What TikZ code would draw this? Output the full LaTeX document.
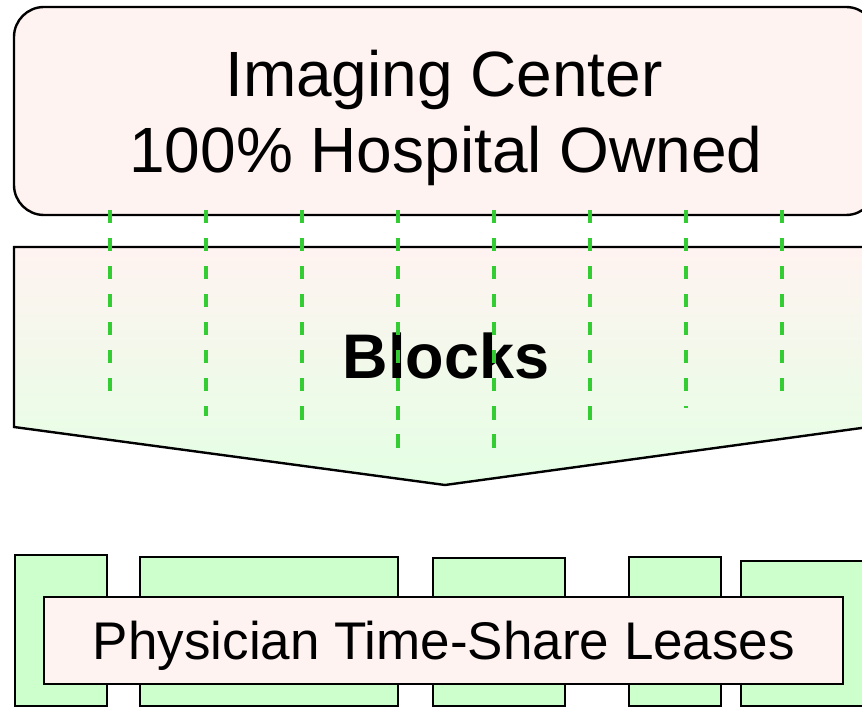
\documentclass[tikz,border=0pt]{standalone}
\usepackage{fontspec}
\setmainfont{Liberation Sans}
\definecolor{pinkfill}{HTML}{FFF3F1}
\definecolor{greenfill}{HTML}{CCFFCC}
\definecolor{lightgreen}{HTML}{E4FFE4}
\definecolor{dashgreen}{HTML}{33CC33}
\tikzset{
  border/.style={draw=black, line width=2.4pt},
  topbox/.style={border, fill=pinkfill, rounded corners=30pt},
  greenbox/.style={border, fill=greenfill},
  leasebox/.style={border, fill=pinkfill},
  divider/.style={draw=dashgreen, line width=3.5pt, dash pattern=on 13.5pt off 14.5pt},
  label/.style={inner sep=0pt, anchor=base},
}
\begin{document}
\begin{tikzpicture}[x=1pt,y=-1pt]
\useasboundingbox (0,0) rectangle (862,708);
\clip (0,0) rectangle (862,708);
% top box
\draw[topbox] (14,7) rectangle (876,215);
\node[label, font=\fontsize{64}{76}\selectfont] (center1) at (444,97) {Imaging Center};
\node[label, font=\fontsize{64}{76}\selectfont] (center2) at (446,173) {100\% Hospital Owned};
% pentagon arrow
\shade[top color=pinkfill, bottom color=lightgreen, shading angle=0]
  (14,247) -- (876,247) -- (876,426) -- (445,485) -- (14,427) -- cycle;
\draw[border, line join=miter] (14,247) -- (876,247) -- (876,426) -- (445,485) -- (14,427) -- cycle;
\node[label, font=\fontsize{63}{74}\selectfont\bfseries] (blocks) at (446,379) {Blocks};
% dashed dividers
\foreach \x/\e [count=\i] in {110/393, 206/416, 302/422, 398/448, 494/448, 590/422, 686/408, 782/393}{
  \coordinate (d\i a) at (\x,210);
  \coordinate (d\i b) at (\x,\e);
  \draw[divider] (d\i a) -- (d\i b);
}
% green blocks
\draw[greenbox] (15,555) rectangle (107,706);
\draw[greenbox] (140,557) rectangle (398,706);
\draw[greenbox] (433,558) rectangle (565,706);
\draw[greenbox] (629,557) rectangle (721,706);
\draw[greenbox] (741,561) rectangle (880,706);
% leases box
\draw[leasebox] (44,597) rectangle (843,684);
\node[label, font=\fontsize{53}{62}\selectfont] (leases) at (444,659) {Physician Time-Share Leases};
\end{tikzpicture}
\end{document}
